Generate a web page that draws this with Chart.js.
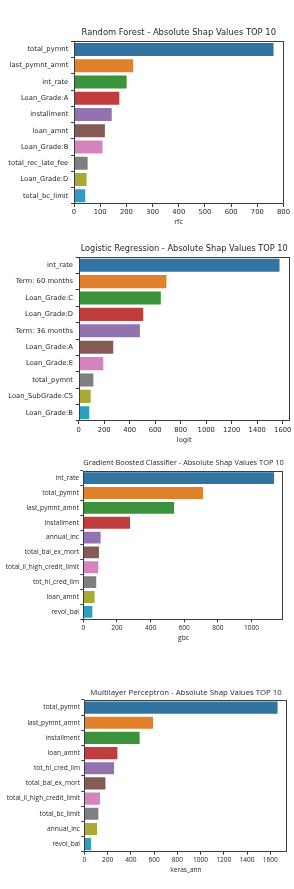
<!DOCTYPE html>
<html><head><meta charset="utf-8">
<script src="https://cdn.jsdelivr.net/npm/chart.js@4/dist/chart.umd.min.js"></script>
<style>
html,body{margin:0;padding:0;background:#fff;width:294px;height:889px;overflow:hidden;position:relative}
canvas{position:absolute;left:0}
</style></head><body>
<canvas id="c1"></canvas>
<canvas id="c2"></canvas>
<canvas id="c3"></canvas>
<canvas id="c4"></canvas>
<script>
const palette = ['#3274a1','#e1812c','#3a923a','#c03d3e','#9372b2','#845b53','#d684bd','#7f7f7f','#a9aa35','#2e9fbf'];

const rfTitle = 'Random Forest - Absolute Shap Values TOP 10';
const rfAxisTitle = 'rfc';
const rfLabels = ['total_pymnt','last_pymnt_amnt','int_rate','Loan_Grade:A','installment','loan_amnt','Loan_Grade:B','total_rec_late_fee','Loan_Grade:D','total_bc_limit'];
const rfValues = [762, 226, 201, 173, 144, 118, 109, 52, 48, 43];
const rfTicks = [0,100,200,300,400,500,600,700,800];
const rfMax = 800;

const lrTitle = 'Logistic Regression - Absolute Shap Values TOP 10';
const lrAxisTitle = 'logit';
const lrLabels = ['int_rate','Term: 60 months','Loan_Grade:C','Loan_Grade:D','Term: 36 months','Loan_Grade:A','Loan_Grade:E','total_pymnt','Loan_SubGrade:C5','Loan_Grade:B'];
const lrValues = [1575, 688, 644, 506, 480, 271, 193, 115, 94, 83];
const lrTicks = [0,200,400,600,800,1000,1200,1400,1600];
const lrMax = 1655;

const gbTitle = 'Gradient Boosted Classifier - Absolute Shap Values TOP 10';
const gbAxisTitle = 'gbc';
const gbLabels = ['int_rate','total_pymnt','last_pymnt_amnt','installment','annual_inc','total_bal_ex_mort','total_il_high_credit_limit','tot_hi_cred_lim','loan_amnt','revol_bal'];
const gbValues = [1135, 712, 540, 278, 103, 93, 89, 77, 67, 54];
const gbTicks = [0,200,400,600,800,1000];
const gbMax = 1192;

const mlTitle = 'Multilayer Perceptron - Absolute Shap Values TOP 10';
const mlAxisTitle = 'keras_ann';
const mlLabels = ['total_pymnt','last_pymnt_amnt','installment','loan_amnt','tot_hi_cred_lim','total_bal_ex_mort','total_il_high_credit_limit','total_bc_limit','annual_inc','revol_bal'];
const mlValues = [1663, 591, 476, 285, 256, 182, 135, 121, 110, 58];
const mlTicks = [0,200,400,600,800,1000,1200,1400,1600];
const mlMax = 1750;

const framePlugin = {
  id: 'frame',
  afterDatasetsDraw(chart) {
    const {ctx, chartArea: a} = chart;
    ctx.save();
    ctx.strokeStyle = '#3c3c3c';
    ctx.lineWidth = 1;
    ctx.strokeRect(Math.round(a.left) + 0.5, Math.round(a.top) + 0.5, Math.round(a.right - a.left) - 1, Math.round(a.bottom - a.top) - 1);
    ctx.restore();
  }
};

function build(id, title, axisTitle, labels, values, ticks, axisMax, g) {
  const cv = document.getElementById(id);
  const ct = Math.round(g.titleY - 15);
  const cb = Math.round(g.plotBottom + 26);
  const H = cb - ct;
  cv.style.top = ct + 'px';
  cv.width = 294; cv.height = H;
  cv.style.width = '294px'; cv.style.height = H + 'px';
  const tLh = g.titleSize * 1.2;
  const aLh = g.tickSize * 1.2;
  const xH = cb - g.plotBottom;
  new Chart(cv, {
    type: 'bar',
    data: {
      labels: labels,
      datasets: [{
        data: values,
        backgroundColor: palette,
        borderWidth: 0,
        categoryPercentage: 0.8,
        barPercentage: 1.0
      }]
    },
    options: {
      indexAxis: 'y',
      responsive: false,
      animation: false,
      devicePixelRatio: 1,
      layout: { padding: { left: 0, right: 294 - g.plotRight, top: 0, bottom: 0 } },
      plugins: {
        legend: { display: false },
        tooltip: { enabled: false },
        title: {
          display: true,
          text: title,
          fullSize: false,
          color: '#262626',
          font: { family: g.font, size: g.titleSize, weight: 'normal', lineHeight: 1.2 },
          padding: { top: g.titleY - ct - tLh / 2, bottom: g.plotTop - g.titleY - tLh / 2 }
        }
      },
      scales: {
        x: {
          type: 'linear',
          min: 0,
          max: axisMax,
          afterBuildTicks: (s) => { s.ticks = ticks.map(v => ({ value: v })); },
          afterFit: (s) => { s.height = xH; },
          border: { display: false },
          grid: { drawOnChartArea: false, drawTicks: true, tickLength: 3, color: '#3c3c3c', lineWidth: 1 },
          ticks: { color: '#262626', padding: g.xPad, maxRotation: 0, autoSkip: false,
                   callback: (v) => String(v),
                   font: { family: g.font, size: g.tickSize, lineHeight: 1.2 } },
          title: { display: true, text: axisTitle, color: '#262626',
                   font: { family: g.font, size: g.tickSize, lineHeight: 1.2 },
                   padding: { top: 0, bottom: cb - g.axisTitleY - aLh / 2 } }
        },
        y: {
          type: 'category',
          afterFit: (s) => { s.width = g.plotLeft; },
          border: { display: false },
          grid: { drawOnChartArea: false, drawTicks: true, tickLength: 3, color: '#3c3c3c', lineWidth: 1 },
          ticks: { color: '#262626', padding: g.yPad, autoSkip: false,
                   font: { family: g.font, size: g.tickSize, lineHeight: 1.2 } }
        }
      }
    },
    plugins: [framePlugin]
  });
}

build('c1', rfTitle, rfAxisTitle, rfLabels, rfValues, rfTicks, rfMax,
  { titleY: 33, plotTop: 41.3, plotBottom: 204, plotLeft: 74, plotRight: 283.5, axisTitleY: 222,
    font: 'DejaVu Sans', titleSize: 8.4, tickSize: 6.8, xPad: 1.3, yPad: 2.7 });
build('c2', lrTitle, lrAxisTitle, lrLabels, lrValues, lrTicks, lrMax,
  { titleY: 249.3, plotTop: 257, plotBottom: 421, plotLeft: 78.7, plotRight: 290.7, axisTitleY: 440,
    font: 'DejaVu Sans', titleSize: 8.2, tickSize: 6.8, xPad: 2.5, yPad: 2.7 });
build('c3', gbTitle, gbAxisTitle, gbLabels, gbValues, gbTicks, gbMax,
  { titleY: 462.7, plotTop: 470.7, plotBottom: 619.3, plotLeft: 83.3, plotRight: 283.7, axisTitleY: 638.3,
    font: 'Open Sans', titleSize: 7.7, tickSize: 6.6, xPad: 2, yPad: 1.3 });
build('c4', mlTitle, mlAxisTitle, mlLabels, mlValues, mlTicks, mlMax,
  { titleY: 692.7, plotTop: 700, plotBottom: 851.7, plotLeft: 84.3, plotRight: 287.7, axisTitleY: 870,
    font: 'Open Sans', titleSize: 7.8, tickSize: 6.6, xPad: 1.5, yPad: 1.3 });
</script>
</body></html>
